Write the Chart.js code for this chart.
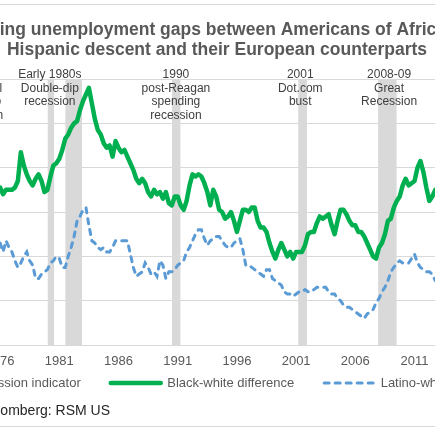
<!DOCTYPE html>
<html>
<head>
<meta charset="utf-8">
<script src="https://cdn.jsdelivr.net/npm/chart.js@4.4.1/dist/chart.umd.min.js"></script>
<style>
  html, body { margin: 0; padding: 0; background: #fff; overflow: hidden; width: 435px; height: 435px; }
  #wrap { position: relative; width: 435px; height: 435px; overflow: hidden; }
  #chart { position: absolute; left: -182px; top: 0; width: 798px; height: 435px; }
</style>
</head>
<body>
<div id="wrap"><canvas id="chart" width="798" height="435"></canvas></div>
<script>
// quarterly dates (decimal years)
var quarters = [
  1976, 1976.25, 1976.5, 1976.75, 1977, 1977.25, 1977.5, 1977.75,
  1978, 1978.25, 1978.5, 1978.75, 1979, 1979.25, 1979.5, 1979.75,
  1980, 1980.25, 1980.5, 1980.75, 1981, 1981.25, 1981.5, 1981.75,
  1982, 1982.25, 1982.5, 1982.75, 1983, 1983.25, 1983.5, 1983.75,
  1984, 1984.25, 1984.5, 1984.75, 1985, 1985.25, 1985.5, 1985.75,
  1986, 1986.25, 1986.5, 1986.75, 1987, 1987.25, 1987.5, 1987.75,
  1988, 1988.25, 1988.5, 1988.75, 1989, 1989.25, 1989.5, 1989.75,
  1990, 1990.25, 1990.5, 1990.75, 1991, 1991.25, 1991.5, 1991.75,
  1992, 1992.25, 1992.5, 1992.75, 1993, 1993.25, 1993.5, 1993.75,
  1994, 1994.25, 1994.5, 1994.75, 1995, 1995.25, 1995.5, 1995.75,
  1996, 1996.25, 1996.5, 1996.75, 1997, 1997.25, 1997.5, 1997.75,
  1998, 1998.25, 1998.5, 1998.75, 1999, 1999.25, 1999.5, 1999.75,
  2000, 2000.25, 2000.5, 2000.75, 2001, 2001.25, 2001.5, 2001.75,
  2002, 2002.25, 2002.5, 2002.75, 2003, 2003.25, 2003.5, 2003.75,
  2004, 2004.25, 2004.5, 2004.75, 2005, 2005.25, 2005.5, 2005.75,
  2006, 2006.25, 2006.5, 2006.75, 2007, 2007.25, 2007.5, 2007.75,
  2008, 2008.25, 2008.5, 2008.75, 2009, 2009.25, 2009.5, 2009.75,
  2010, 2010.25, 2010.5, 2010.75, 2011, 2011.25, 2011.5, 2011.75,
  2012, 2012.25, 2012.5, 2012.75
]

// black-white unemployment rate difference (pct points)
var blackWhite = [
  7.1, 6.8, 7.0, 7.0, 7.0, 7.1, 7.4, 8.7,
  8.1, 7.7, 7.4, 7.2, 7.5, 7.7, 7.4, 6.9,
  7.0, 7.6, 8.1, 8.2, 8.4, 8.8, 9.3, 9.5,
  9.8, 10.0, 10.1, 10.6, 11.0, 11.3, 11.6, 10.9,
  10.2, 9.7, 9.5, 9.1, 8.9, 9.0, 8.5, 9.2,
  8.9, 8.7, 8.8, 8.5, 8.2, 7.9, 7.5, 7.3,
  7.5, 7.3, 6.9, 6.7, 7.0, 6.8, 6.9, 6.6,
  6.9, 6.4, 6.3, 6.7, 6.7, 6.3, 6.1, 6.5,
  7.2, 7.7, 7.6, 7.7, 7.6, 7.3, 6.9, 6.3,
  7.0, 6.7, 6.1, 6.0, 5.7, 5.8, 6.0, 5.6,
  5.1, 5.6, 6.1, 6.1, 6.0, 6.2, 6.2, 5.6,
  5.3, 5.3, 5.1, 4.6, 4.2, 3.9, 4.3, 4.6,
  4.3, 4.0, 4.2, 3.9, 4.2, 4.2, 4.2, 4.5,
  5.0, 5.1, 5.1, 5.5, 5.8, 5.7, 5.8, 5.9,
  5.4, 5.0, 5.6, 6.1, 6.1, 5.9, 5.6, 5.4,
  5.4, 5.1, 5.1, 4.9, 4.6, 4.3, 4.0, 3.9,
  4.4, 4.6, 5.0, 5.6, 5.7, 6.2, 6.5, 6.7,
  7.2, 7.5, 7.2, 7.3, 7.4, 8.0, 8.3, 7.8,
  7.1, 6.5, 6.7, 7.0
]

// latino-white unemployment rate difference (pct points)
var latinoWhite = [
  4.6, 4.2, 4.7, 4.4, 4.2, 3.8, 3.5, 3.7,
  4.0, 4.2, 3.8, 3.6, 3.0, 3.0, 3.2, 3.3,
  3.4, 3.7, 3.8, 4.0, 3.9, 3.5, 3.5, 4.0,
  4.4, 4.9, 5.6, 5.8, 6.1, 6.2, 5.4, 4.7,
  4.6, 4.4, 4.3, 4.4, 4.2, 4.2, 4.4, 4.7,
  4.7, 4.7, 4.7, 4.7, 4.1, 3.5, 3.1, 3.2,
  3.3, 3.7, 3.5, 3.2, 3.3, 3.1, 3.8, 3.6,
  3.0, 3.3, 3.3, 3.4, 3.6, 3.7, 3.8, 4.2,
  4.4, 4.7, 5.0, 5.2, 5.2, 4.8, 4.5, 4.7,
  4.8, 4.9, 4.9, 4.7, 4.5, 4.4, 4.4, 4.6,
  4.7, 4.8, 4.3, 3.6, 3.6, 3.5, 3.4, 3.3,
  3.2, 3.1, 3.4, 3.4, 3.0, 2.9, 2.8, 2.7,
  2.4, 2.3, 2.3, 2.2, 2.3, 2.4, 2.4, 2.5,
  2.4, 2.4, 2.5, 2.6, 2.6, 2.6, 2.6, 2.4,
  2.3, 2.3, 2.1, 2.0, 1.8, 1.7, 1.7, 1.6,
  1.5, 1.4, 1.3, 1.2, 1.4, 1.5, 1.6, 1.9,
  2.1, 2.4, 2.6, 2.9, 3.3, 3.5, 3.7, 3.8,
  3.7, 3.7, 3.7, 3.9, 4.1, 3.7, 3.5, 3.4,
  3.3, 3.3, 3.2, 2.9
]

// NBER recessions (decimal years)
var recessionStart = [1973.83, 1980.0, 1981.5, 1990.5, 2001.17, 2007.92]
var recessionEnd = [1975.25, 1980.58, 1982.92, 1991.25, 2001.92, 2009.5]

var noteYears = [1974.1, 1980.2, 1990.85, 2001.35, 2008.85]
var noteLines = [
  ['1973-75', 'OPEC oil', 'embargo', 'recession'],
  ['Early 1980s', 'Double-dip', 'recession'],
  ['1990', 'post-Reagan', 'spending', 'recession'],
  ['2001', 'Dot.com', 'bust'],
  ['2008-09', 'Great', 'Recession']
]

var tickYears = [1976, 1981, 1986, 1991, 1996, 2001, 2006, 2011]

var titleLines = [
  'Persisting unemployment gaps between Americans of African and',
  'Hispanic descent and their European counterparts'
]
var sourceText = 'Source: Bloomberg: RSM US'

Chart.defaults.font.family = "'Liberation Sans', Arial, sans-serif"

var recessionPoints = []
for (var i = 0; i < recessionStart.length; i++) {
  recessionPoints.push({ x: recessionStart[i], y: 12 })
  recessionPoints.push({ x: recessionEnd[i], y: 12 })
  recessionPoints.push({ x: recessionEnd[i], y: null })
}

function pairs(values) {
  return values.map(function (v, i) { return { x: quarters[i], y: v } })
}

// frame, recession notes and source line
var decor = {
  id: 'decor',
  afterLayout: function (chart) {
    // pull the legend up under the axis labels
    chart.legend.top -= 32
    chart.legend.bottom -= 32
    chart.legend.left -= 6
    chart.legend.right -= 6
  },
  beforeDraw: function (chart) {
    var c = chart.ctx
    c.save()
    c.fillStyle = '#fff'
    c.fillRect(0, 0, chart.width, chart.height)
    c.strokeStyle = '#d9d9d9'
    c.lineWidth = 1
    c.strokeRect(1.5, 4.5, chart.width - 3, 422)
    c.restore()
  },
  afterDatasetsDraw: function (chart) {
    var c = chart.ctx
    var xs = chart.scales.x
    c.save()
    c.font = "12px 'Liberation Sans', Arial, sans-serif"
    c.fillStyle = '#404040'
    c.textAlign = 'center'
    c.textBaseline = 'middle'
    for (var i = 0; i < noteYears.length; i++) {
      var px = xs.getPixelForValue(noteYears[i])
      for (var j = 0; j < noteLines[i].length; j++) {
        c.fillText(noteLines[i][j], px, 75 + j * 13.5)
      }
    }
    c.restore()
  },
  afterDraw: function (chart) {
    var c = chart.ctx
    c.save()
    c.font = "14px 'Liberation Sans', Arial, sans-serif"
    c.fillStyle = '#262626'
    c.textAlign = 'left'
    c.textBaseline = 'middle'
    c.fillText(sourceText, chart.chartArea.left + 100, 411)
    c.restore()
  }
}

var ctx = document.getElementById('chart').getContext('2d')
var myChart = new Chart(ctx, {
  type: 'line',
  data: {
    datasets: [
      {
        label: 'Recession indicator',
        data: recessionPoints,
        backgroundColor: '#d9d9d9',
        borderColor: '#d9d9d9',
        borderWidth: 0,
        fill: 'origin',
        spanGaps: false,
        pointRadius: 0,
        pointStyle: 'rect',
        order: 3
      },
      {
        label: 'Black-white difference',
        data: pairs(blackWhite),
        borderColor: '#00b050',
        backgroundColor: '#00b050',
        borderWidth: 4.5,
        borderJoinStyle: 'round',
        borderCapStyle: 'round',
        fill: false,
        pointRadius: 0,
        pointStyle: 'line',
        order: 2
      },
      {
        label: 'Latino-white difference',
        data: pairs(latinoWhite),
        borderColor: '#5b9bd5',
        backgroundColor: '#5b9bd5',
        borderWidth: 3,
        borderDash: [5, 6],
        borderCapStyle: 'round',
        fill: false,
        pointRadius: 0,
        pointStyle: 'line',
        order: 1
      }
    ]
  },
  options: {
    responsive: false,
    animation: false,
    events: [],
    layout: { padding: { top: 21, left: 10, right: 10, bottom: 3.4 } },
    scales: {
      x: {
        type: 'linear',
        min: 1961.465,
        max: 2027.17,
        afterBuildTicks: function (axis) {
          axis.ticks = tickYears.map(function (v) { return { value: v } })
        },
        ticks: {
          callback: function (v) { return String(v) },
          font: { size: 13 },
          color: '#595959',
          padding: 9,
          maxRotation: 0,
          autoSkip: false
        },
        grid: { display: false, drawTicks: false },
        border: { color: '#d9d9d9', width: 1 }
      },
      y: {
        min: 0,
        max: 12,
        ticks: { stepSize: 2, display: false },
        grid: { color: '#d9d9d9', drawTicks: false },
        border: { display: false }
      }
    },
    plugins: {
      tooltip: { enabled: false },
      title: {
        display: true,
        text: titleLines,
        color: '#595959',
        font: { size: 17.5, weight: 'bold', lineHeight: 1.1 },
        padding: { top: 0, bottom: 19.5 }
      },
      legend: {
        position: 'bottom',
        labels: {
          color: '#595959',
          font: { size: 13 },
          usePointStyle: true,
          pointStyleWidth: 50,
          padding: 30,
          generateLabels: function (chart) {
            var items = Chart.defaults.plugins.legend.labels.generateLabels(chart)
            items.forEach(function (it) {
              var ds = chart.data.datasets[it.datasetIndex]
              it.lineWidth = ds.borderWidth
              it.lineDash = ds.borderDash || []
              it.lineCap = ds.borderCapStyle || 'butt'
              it.strokeStyle = ds.borderColor
              it.fillStyle = ds.backgroundColor
            })
            return items.sort(function (a, b) { return a.datasetIndex - b.datasetIndex })
          }
        }
      }
    }
  },
  plugins: [decor]
})
</script>
</body>
</html>
